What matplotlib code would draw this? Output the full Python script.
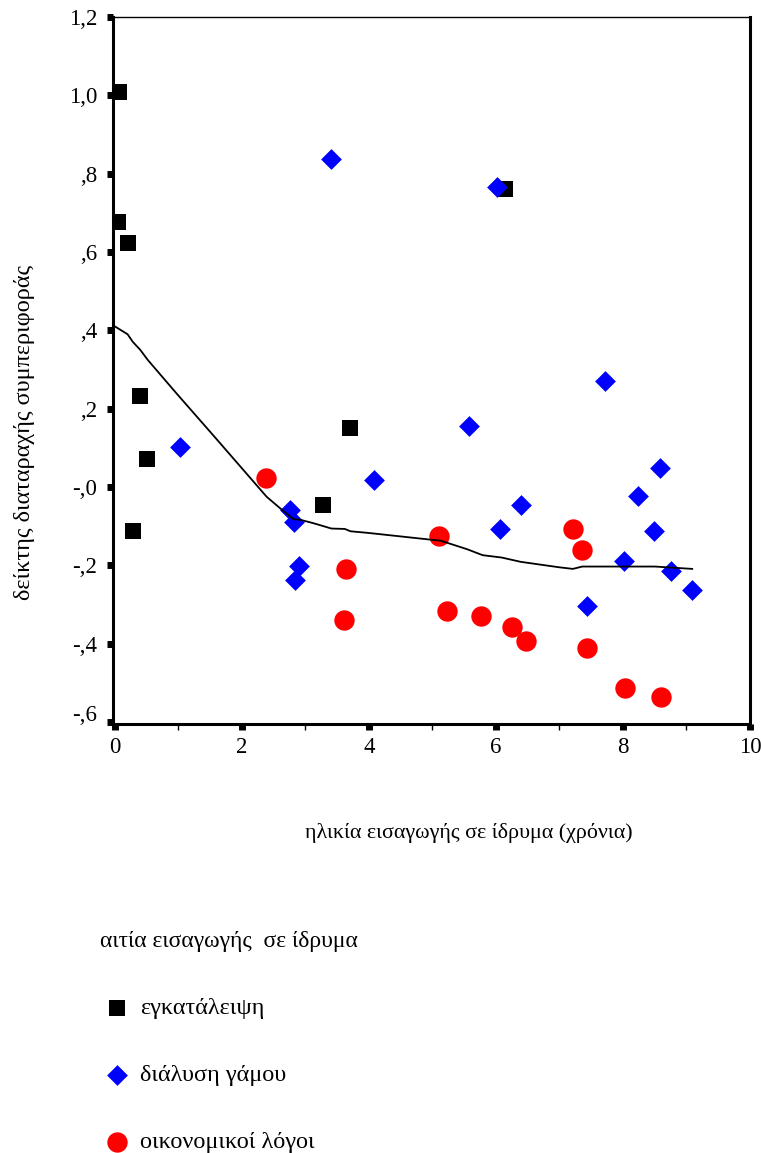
import matplotlib
matplotlib.use("Agg")
import matplotlib.pyplot as plt
from matplotlib.ticker import FixedLocator, FixedFormatter
from matplotlib.transforms import ScaledTranslation

# ---- data ----
aband_x = [0.06, 0.05, 0.20, 0.39, 0.50, 0.28, 3.70, 3.28, 6.14]
aband_y = [1.009, 0.677, 0.623, 0.232, 0.072, -0.112, 0.151, -0.046, 0.761]

divorce_x = [1.02, 3.40, 2.76, 2.82, 2.90, 2.83, 4.08, 5.57, 6.02, 6.06,
             6.39, 7.43, 7.72, 8.02, 8.24, 8.58, 8.49, 8.76, 9.09]
divorce_y = [0.102, 0.838, -0.059, -0.089, -0.202, -0.238, 0.018, 0.156, 0.766, -0.107,
             -0.046, -0.304, 0.271, -0.189, -0.023, 0.049, -0.112, -0.215, -0.263]

econ_x = [2.38, 3.64, 3.61, 5.10, 5.23, 5.76, 6.25, 6.47, 7.21, 7.35, 7.43, 8.03, 8.60]
econ_y = [0.023, -0.209, -0.340, -0.125, -0.317, -0.329, -0.358, -0.393, -0.107, -0.161,
          -0.411, -0.513, -0.536]

fit_x = [0.0, 0.20, 0.28, 0.40, 0.52, 0.97, 1.57, 2.39, 2.60, 2.81, 2.93, 3.14, 3.41,
         3.62, 3.71, 3.98, 4.95, 5.13, 5.55, 5.79, 6.09, 6.39, 7.00, 7.21, 7.36, 8.50, 9.09]
fit_y = [0.41, 0.39, 0.371, 0.350, 0.324, 0.239, 0.128, -0.025, -0.054, -0.082, -0.084,
         -0.093, -0.106, -0.107, -0.113, -0.117, -0.134, -0.137, -0.159, -0.174, -0.180,
         -0.191, -0.205, -0.209, -0.203, -0.203, -0.209]

series_names = ["εγκατάλειψη", "διάλυση γάμου", "οικονομικοί λόγοι"]
legend_title = "αιτία εισαγωγής  σε ίδρυμα"
x_label = "ηλικία εισαγωγής σε ίδρυμα (χρόνια)"
y_label = "δείκτης διαταραχής συμπεριφοράς"

x_ticks = [0, 2, 4, 6, 8, 10]
x_tick_labels = ["0", "2", "4", "6", "8", "10"]
x_minor = [1, 3, 5, 7, 9]
y_ticks = [-0.6, -0.4, -0.2, 0.0, 0.2, 0.4, 0.6, 0.8, 1.0, 1.2]
y_tick_labels = ["-,6", "-,4", "-,2", "-,0", ",2", ",4", ",6", ",8", "1,0", "1,2"]

# ---- figure ----
plt.rcParams['font.family'] = ['Liberation Serif', 'DejaVu Serif']
W, H = 761, 1153
fig = plt.figure(figsize=(W / 100, H / 100), dpi=100)
ax = fig.add_axes([113 / W, 1 - 724 / H, (750 - 113) / W, (724 - 17) / H])

s1 = ax.scatter(aband_x, aband_y, marker='s', s=135, color='black', linewidths=0,
                zorder=3, label=series_names[0])
s2 = ax.scatter(divorce_x, divorce_y, marker='D', s=112, color='#0000ff', linewidths=0,
                zorder=4, label=series_names[1])
s3 = ax.scatter(econ_x, econ_y, marker='o', s=215, color='#ff0000', linewidths=0,
                zorder=5, label=series_names[2])
ax.plot(fit_x, fit_y, color='black', lw=1.3, zorder=6)

ax.set_xlim(-0.03, 10)
ax.set_ylim(-0.605, 1.2)

ax.xaxis.set_major_locator(FixedLocator(x_ticks))
ax.xaxis.set_major_formatter(FixedFormatter(x_tick_labels))
ax.xaxis.set_minor_locator(FixedLocator(x_minor))
ax.yaxis.set_major_locator(FixedLocator(y_ticks))
ax.yaxis.set_major_formatter(FixedFormatter(y_tick_labels))

ax.tick_params(axis='both', which='major', direction='out', length=4.5, width=5,
               labelsize=16.5, color='black')
ax.tick_params(axis='x', which='major', pad=5)
ax.tick_params(axis='y', which='major', pad=7)
ax.tick_params(axis='x', which='minor', direction='out', length=4.5, width=1.0)

# lift the bottom y tick label slightly, as in the reference
bottom_lbl = ax.yaxis.get_major_ticks()[0].label1
bottom_lbl.set_transform(bottom_lbl.get_transform() +
                         ScaledTranslation(0, 9 / 100, fig.dpi_scale_trans))

for side in ['left', 'bottom', 'right']:
    ax.spines[side].set_linewidth(2.2)
ax.spines['top'].set_linewidth(1.0)

fig.text(305 / W, 1 - 833 / H, x_label, ha='left', va='center', fontsize=15.8)
fig.text(25 / W, 1 - 432 / H, y_label, ha='center', va='center', rotation=90, fontsize=17.5)

leg = fig.legend(handles=[s1, s2, s3], labels=series_names, title=legend_title,
                 loc='upper left', bbox_to_anchor=(100 / W, 1 - 931 / H),
                 frameon=False, fontsize=17.5, title_fontsize=17, borderpad=0,
                 borderaxespad=0, labelspacing=1.85, handlelength=1.4,
                 handletextpad=0.25, scatterpoints=1, alignment='left')

fig.savefig("out.png", dpi=100)
